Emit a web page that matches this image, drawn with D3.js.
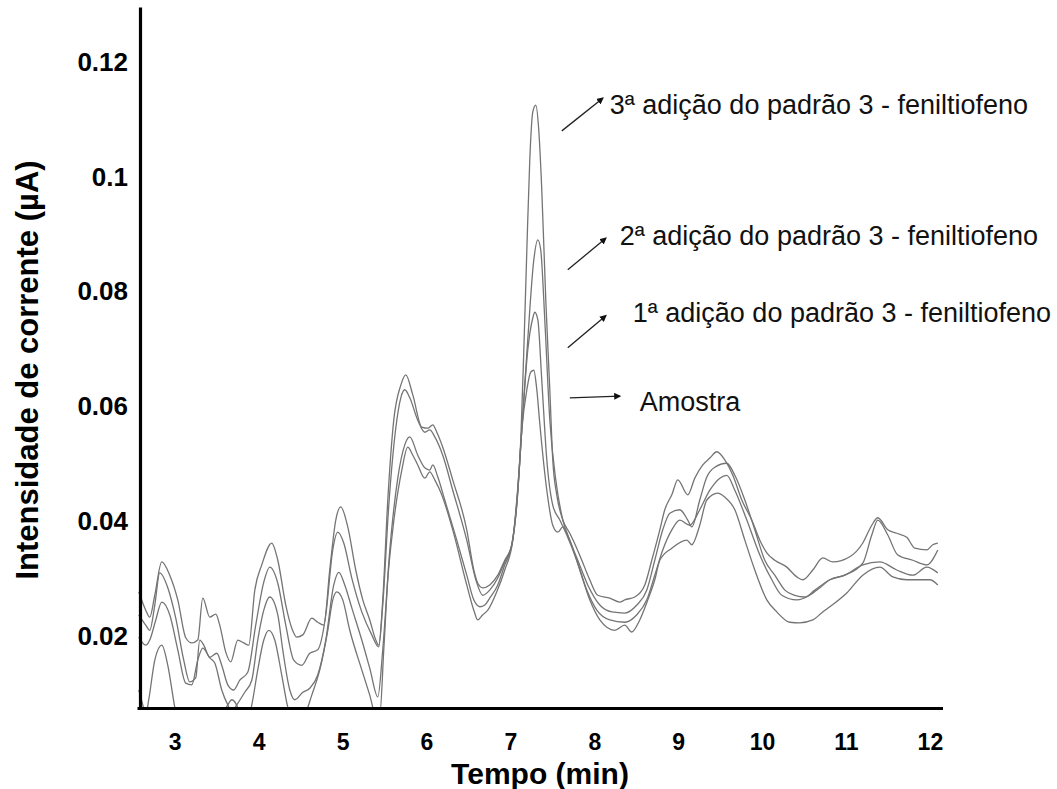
<!DOCTYPE html>
<html>
<head>
<meta charset="utf-8">
<script src="https://d3js.org/d3.v7.min.js"></script>
<style>
  body { margin: 0; background: #fff; }
  text { font-family: "Liberation Sans", Arial, sans-serif; }
  .axis path { stroke: #000; stroke-width: 3.2; }
  .axis text { font-weight: bold; fill: #000; }
  .trace { fill: none; stroke: #747474; stroke-width: 1.3; }
  .note { font-size: 27px; fill: #111; }
</style>
</head>
<body>
<script>

// Tick values of both axes
var xTicks = [3, 4, 5, 6, 7, 8, 9, 10, 11, 12];
var yTicks = [0.02, 0.04, 0.06, 0.08, 0.1, 0.12];
var yTickLabels = ["0.02", "0.04", "0.06", "0.08", "0.1", "0.12"];

// Series: time (min) and current (uA)
var tempo3 = [2.571, 2.654, 2.702, 2.762, 2.845, 2.940, 3.036, 3.131, 3.203, 3.274, 3.334, 3.417, 3.489, 3.536, 3.608, 3.667, 3.751, 3.822, 3.882, 3.954, 4.037, 4.156, 4.228, 4.323, 4.394, 4.454, 4.526, 4.633, 4.704, 4.776, 4.847, 4.919, 4.979, 5.062, 5.157, 5.241, 5.324, 5.396, 5.431, 5.479, 5.539, 5.610, 5.694, 5.753, 5.837, 5.944, 6.016, 6.075, 6.123, 6.194, 6.313, 6.480, 6.564, 6.611, 6.671, 6.754, 6.850, 6.933, 7.017, 7.076, 7.124, 7.160, 7.196, 7.231, 7.267, 7.303, 7.338, 7.374, 7.422, 7.470, 7.505, 7.553, 7.625, 7.708, 7.791, 7.851, 7.946, 8.042, 8.185, 8.304, 8.363, 8.483, 8.602, 8.685, 8.781, 8.840, 8.924, 8.995, 9.114, 9.198, 9.293, 9.377, 9.460, 9.555, 9.651, 9.758, 9.877, 9.973, 10.056, 10.151, 10.294, 10.414, 10.485, 10.604, 10.723, 10.843, 11.045, 11.200, 11.307, 11.379, 11.498, 11.605, 11.724, 11.820, 11.963, 12.034, 12.094];
var corrente3 = [0.0277, 0.0245, 0.0233, 0.0271, 0.0329, 0.0306, 0.0263, 0.0197, 0.0188, 0.0193, 0.0266, 0.0233, 0.0238, 0.0219, 0.0172, 0.0155, 0.0193, 0.0188, 0.0184, 0.0280, 0.0324, 0.0362, 0.0332, 0.0254, 0.0214, 0.0198, 0.0202, 0.0231, 0.0224, 0.0219, 0.0315, 0.0402, 0.0425, 0.0390, 0.0315, 0.0263, 0.0228, 0.0193, 0.0184, 0.0263, 0.0437, 0.0576, 0.0637, 0.0655, 0.0620, 0.0564, 0.0562, 0.0568, 0.0555, 0.0529, 0.0472, 0.0385, 0.0315, 0.0292, 0.0284, 0.0289, 0.0306, 0.0332, 0.0359, 0.0437, 0.0541, 0.0698, 0.0872, 0.1029, 0.1113, 0.1125, 0.1082, 0.0978, 0.0785, 0.0629, 0.0507, 0.0446, 0.0402, 0.0379, 0.0353, 0.0332, 0.0298, 0.0271, 0.0266, 0.0259, 0.0263, 0.0268, 0.0289, 0.0332, 0.0385, 0.0420, 0.0446, 0.0472, 0.0446, 0.0475, 0.0498, 0.0510, 0.0521, 0.0507, 0.0480, 0.0437, 0.0402, 0.0367, 0.0345, 0.0332, 0.0320, 0.0303, 0.0298, 0.0315, 0.0336, 0.0329, 0.0338, 0.0362, 0.0393, 0.0406, 0.0385, 0.0379, 0.0372, 0.0353, 0.0350, 0.0359, 0.0362];

var tempo2 = [2.571, 2.654, 2.702, 2.762, 2.821, 2.917, 3.012, 3.107, 3.179, 3.250, 3.298, 3.346, 3.417, 3.501, 3.560, 3.632, 3.703, 3.775, 3.870, 3.965, 4.061, 4.132, 4.228, 4.323, 4.418, 4.514, 4.609, 4.704, 4.800, 4.883, 4.943, 5.014, 5.110, 5.229, 5.348, 5.431, 5.479, 5.551, 5.634, 5.694, 5.741, 5.801, 5.896, 5.980, 6.039, 6.099, 6.194, 6.313, 6.480, 6.588, 6.671, 6.754, 6.850, 6.933, 7.017, 7.076, 7.136, 7.207, 7.279, 7.327, 7.362, 7.410, 7.470, 7.541, 7.625, 7.708, 7.803, 7.922, 8.066, 8.209, 8.363, 8.507, 8.626, 8.721, 8.816, 8.900, 9.019, 9.114, 9.162, 9.257, 9.341, 9.436, 9.579, 9.675, 9.794, 9.913, 10.032, 10.151, 10.271, 10.390, 10.509, 10.628, 10.807, 10.986, 11.200, 11.307, 11.379, 11.498, 11.617, 11.796, 11.963, 12.094];
var corrente2 = [0.0237, 0.0219, 0.0210, 0.0254, 0.0310, 0.0284, 0.0231, 0.0158, 0.0120, 0.0127, 0.0193, 0.0184, 0.0163, 0.0170, 0.0149, 0.0115, 0.0106, 0.0123, 0.0137, 0.0219, 0.0294, 0.0320, 0.0292, 0.0219, 0.0158, 0.0149, 0.0170, 0.0176, 0.0237, 0.0350, 0.0381, 0.0362, 0.0301, 0.0242, 0.0202, 0.0181, 0.0254, 0.0428, 0.0562, 0.0615, 0.0629, 0.0615, 0.0576, 0.0555, 0.0559, 0.0547, 0.0515, 0.0454, 0.0367, 0.0298, 0.0271, 0.0280, 0.0301, 0.0329, 0.0359, 0.0428, 0.0559, 0.0716, 0.0855, 0.0890, 0.0872, 0.0751, 0.0576, 0.0472, 0.0402, 0.0367, 0.0332, 0.0289, 0.0254, 0.0242, 0.0240, 0.0254, 0.0280, 0.0332, 0.0385, 0.0414, 0.0420, 0.0402, 0.0390, 0.0437, 0.0477, 0.0494, 0.0501, 0.0480, 0.0437, 0.0385, 0.0332, 0.0306, 0.0280, 0.0271, 0.0268, 0.0280, 0.0298, 0.0306, 0.0327, 0.0376, 0.0402, 0.0376, 0.0341, 0.0332, 0.0324, 0.0350];

var tempo1 = [2.571, 2.654, 2.702, 2.774, 2.845, 2.940, 3.036, 3.131, 3.203, 3.274, 3.334, 3.417, 3.477, 3.560, 3.632, 3.679, 3.739, 3.834, 3.918, 3.989, 4.061, 4.132, 4.228, 4.287, 4.371, 4.430, 4.526, 4.609, 4.704, 4.800, 4.895, 4.955, 5.026, 5.110, 5.229, 5.324, 5.420, 5.479, 5.563, 5.658, 5.741, 5.801, 5.896, 5.980, 6.039, 6.075, 6.135, 6.218, 6.361, 6.480, 6.564, 6.635, 6.695, 6.754, 6.850, 6.933, 7.017, 7.076, 7.136, 7.207, 7.267, 7.291, 7.327, 7.374, 7.434, 7.505, 7.589, 7.672, 7.791, 7.911, 8.030, 8.185, 8.363, 8.507, 8.626, 8.721, 8.816, 8.924, 9.019, 9.138, 9.257, 9.377, 9.496, 9.579, 9.675, 9.818, 9.973, 10.116, 10.235, 10.414, 10.568, 10.688, 10.807, 10.986, 11.200, 11.403, 11.605, 11.796, 11.963, 12.094];
var corrente1 = [0.0198, 0.0184, 0.0193, 0.0228, 0.0259, 0.0237, 0.0176, 0.0118, 0.0115, 0.0158, 0.0179, 0.0162, 0.0153, 0.0106, 0.0080, 0.0068, 0.0080, 0.0102, 0.0123, 0.0193, 0.0245, 0.0268, 0.0237, 0.0176, 0.0106, 0.0089, 0.0102, 0.0109, 0.0132, 0.0193, 0.0289, 0.0311, 0.0289, 0.0249, 0.0193, 0.0144, 0.0094, 0.0176, 0.0350, 0.0475, 0.0533, 0.0547, 0.0515, 0.0493, 0.0489, 0.0498, 0.0477, 0.0437, 0.0367, 0.0306, 0.0263, 0.0251, 0.0254, 0.0266, 0.0289, 0.0324, 0.0359, 0.0428, 0.0559, 0.0698, 0.0754, 0.0764, 0.0751, 0.0646, 0.0507, 0.0428, 0.0402, 0.0376, 0.0332, 0.0280, 0.0245, 0.0228, 0.0224, 0.0237, 0.0263, 0.0306, 0.0350, 0.0385, 0.0402, 0.0393, 0.0420, 0.0454, 0.0475, 0.0480, 0.0454, 0.0402, 0.0341, 0.0298, 0.0271, 0.0263, 0.0271, 0.0284, 0.0298, 0.0306, 0.0324, 0.0329, 0.0315, 0.0306, 0.0320, 0.0310];

var tempoAmostra = [2.571, 2.619, 2.654, 2.690, 2.762, 2.845, 2.917, 3.000, 3.060, 3.298, 3.477, 3.632, 3.679, 3.751, 3.822, 3.918, 3.989, 4.061, 4.120, 4.192, 4.275, 4.347, 4.430, 4.549, 4.633, 4.728, 4.824, 4.883, 4.931, 5.002, 5.086, 5.229, 5.324, 5.396, 5.443, 5.491, 5.539, 5.598, 5.706, 5.777, 5.837, 5.896, 5.980, 6.039, 6.099, 6.182, 6.313, 6.480, 6.564, 6.611, 6.671, 6.731, 6.838, 6.933, 7.029, 7.088, 7.136, 7.196, 7.243, 7.279, 7.315, 7.350, 7.434, 7.505, 7.565, 7.625, 7.708, 7.827, 7.946, 8.066, 8.244, 8.363, 8.447, 8.542, 8.638, 8.721, 8.781, 8.924, 9.103, 9.162, 9.257, 9.341, 9.472, 9.555, 9.675, 9.794, 9.913, 10.056, 10.175, 10.330, 10.449, 10.604, 10.723, 10.807, 11.009, 11.200, 11.403, 11.558, 11.724, 11.880, 11.999, 12.094];
var correnteAmostra = [0.0106, 0.0080, 0.0062, 0.0089, 0.0158, 0.0184, 0.0149, 0.0076, 0.0036, 0.0019, 0.0036, 0.0080, 0.0089, 0.0075, 0.0036, 0.0080, 0.0141, 0.0193, 0.0210, 0.0193, 0.0132, 0.0076, 0.0045, 0.0062, 0.0097, 0.0141, 0.0210, 0.0263, 0.0277, 0.0263, 0.0210, 0.0141, 0.0097, 0.0062, 0.0062, 0.0176, 0.0298, 0.0385, 0.0489, 0.0529, 0.0515, 0.0498, 0.0475, 0.0486, 0.0472, 0.0446, 0.0385, 0.0289, 0.0245, 0.0228, 0.0237, 0.0245, 0.0277, 0.0315, 0.0367, 0.0454, 0.0559, 0.0629, 0.0660, 0.0663, 0.0629, 0.0571, 0.0454, 0.0393, 0.0381, 0.0390, 0.0367, 0.0315, 0.0263, 0.0228, 0.0210, 0.0219, 0.0207, 0.0228, 0.0263, 0.0298, 0.0332, 0.0353, 0.0367, 0.0359, 0.0393, 0.0437, 0.0449, 0.0442, 0.0420, 0.0367, 0.0315, 0.0263, 0.0242, 0.0224, 0.0223, 0.0228, 0.0242, 0.0251, 0.0275, 0.0306, 0.0320, 0.0303, 0.0298, 0.0298, 0.0298, 0.0289];

// Labels next to the peak, with arrow start, arrow end and text anchor (min, uA)
var notes = [
  { text: "3ª adição do padrão 3 - feniltiofeno", from: [7.613, 0.1080], to: [8.101, 0.1137], at: [8.185, 0.1109] },
  { text: "2ª adição do padrão 3 - feniltiofeno", from: [7.684, 0.0838], to: [8.137, 0.0893], at: [8.304, 0.0881] },
  { text: "1ª adição do padrão 3 - feniltiofeno", from: [7.684, 0.0702], to: [8.137, 0.0758], at: [8.459, 0.0747] },
  { text: "Amostra", from: [7.708, 0.0615], to: [8.304, 0.0618], at: [8.542, 0.0592] }
];

var series = [
  { tempo: tempo3, corrente: corrente3 },
  { tempo: tempo2, corrente: corrente2 },
  { tempo: tempo1, corrente: corrente1 },
  { tempo: tempoAmostra, corrente: correnteAmostra }
];

var w = 1057;
var h = 789;

var svg = d3.select("body")
    .append("svg")
    .attr("width", w)
    .attr("height", h);

// Scales
var xScale = d3.scaleLinear()
    .domain([2.55, 12.15])
    .range([137, 942.5]);
var yScale = d3.scaleLinear()
    .domain([0.00746, 0.12958])
    .range([708, 7]);

// Clip the traces to the plotting area
svg.append("defs")
  .append("clipPath")
    .attr("id", "plot")
  .append("rect")
    .attr("x", xScale.range()[0])
    .attr("y", yScale.range()[1])
    .attr("width", xScale.range()[1] - xScale.range()[0])
    .attr("height", yScale.range()[0] - yScale.range()[1]);

// Arrow head for the labels
svg.select("defs")
  .append("marker")
    .attr("id", "head")
    .attr("viewBox", "0 0 10 10")
    .attr("refX", 8)
    .attr("refY", 5)
    .attr("markerWidth", 7)
    .attr("markerHeight", 7)
    .attr("markerUnits", "userSpaceOnUse")
    .attr("orient", "auto")
  .append("path")
    .attr("d", "M0,0L10,5L0,10Z")
    .attr("fill", "#111");

var line = d3.line()
    .x(function(d) { return xScale(d[0]); })
    .y(function(d) { return yScale(d[1]); })
    .curve(d3.curveMonotoneX);

// Draw the four voltammograms
svg.append("g")
    .attr("clip-path", "url(#plot)")
  .selectAll("path")
    .data(series)
    .enter()
    .append("path")
    .attr("class", "trace")
    .attr("d", function(s) { return line(d3.zip(s.tempo, s.corrente)); });

// x-axis
svg.append("g")
    .attr("class", "x axis")
    .attr("transform", "translate(0," + yScale.range()[0] + ")")
    .call(d3.axisBottom(xScale)
      .tickValues(xTicks)
      .tickFormat(d3.format("d"))
      .tickSize(0)
      .tickPadding(26))
    .selectAll("text")
    .style("font-size", "23px");

// y-axis
svg.append("g")
    .attr("class", "y axis")
    .attr("transform", "translate(140,0)")
    .call(d3.axisLeft(yScale)
      .tickValues(yTicks)
      .tickFormat(function(d, i) { return yTickLabels[i]; })
      .tickSize(0)
      .tickPadding(12))
    .selectAll("text")
    .style("font-size", "26px");

// Axis titles
svg.append("text")
    .attr("x", 540)
    .attr("y", 783.5)
    .attr("text-anchor", "middle")
    .style("font-size", "30px")
    .style("font-weight", "bold")
    .text("Tempo (min)");

svg.append("text")
    .attr("transform", "translate(38,370) rotate(-90)")
    .attr("text-anchor", "middle")
    .style("font-size", "31px")
    .style("font-weight", "bold")
    .text("Intensidade de corrente (µA)");

// Arrows and labels
var note = svg.selectAll(".notes")
    .data(notes)
    .enter()
    .append("g");

note.append("line")
    .attr("x1", function(d) { return xScale(d.from[0]); })
    .attr("y1", function(d) { return yScale(d.from[1]); })
    .attr("x2", function(d) { return xScale(d.to[0]); })
    .attr("y2", function(d) { return yScale(d.to[1]); })
    .attr("stroke", "#222")
    .attr("stroke-width", 1.3)
    .attr("marker-end", "url(#head)");

note.append("text")
    .attr("class", "note")
    .attr("x", function(d) { return xScale(d.at[0]); })
    .attr("y", function(d) { return yScale(d.at[1]); })
    .text(function(d) { return d.text; });

</script>
</body>
</html>
